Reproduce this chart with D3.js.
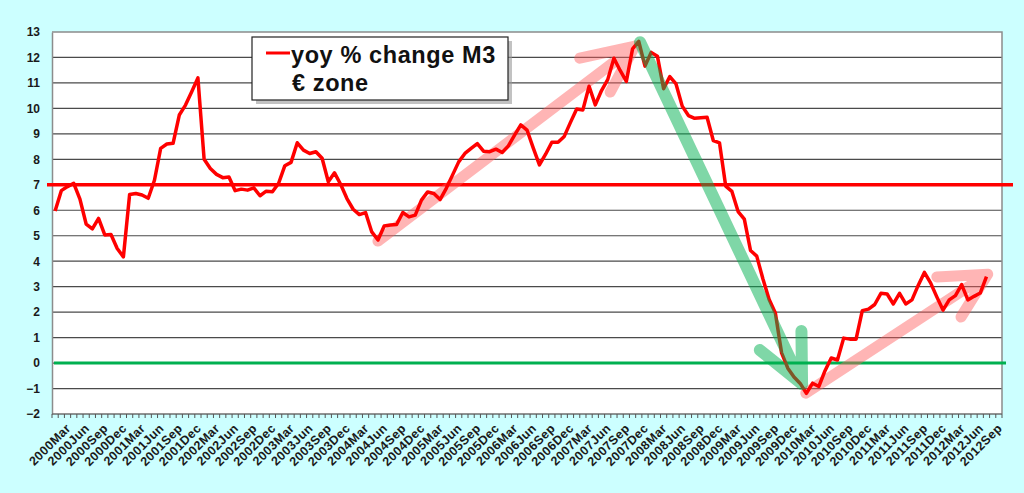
<!DOCTYPE html>
<html>
<head>
<meta charset="utf-8">
<script src="https://cdn.jsdelivr.net/npm/d3@7"></script>
<style>
  html, body { margin: 0; padding: 0; background: #ccffff; }
  svg { display: block; }
  text { font-family: "Liberation Sans", Arial, sans-serif; }
</style>
</head>
<body>
<svg id="chart" width="1024" height="493"></svg>
<script>
// categories: monthly, 2000Jan .. 2012Sep (labels shown on quarter months only)
const years = [2000, 2001, 2002, 2003, 2004, 2005, 2006, 2007, 2008, 2009, 2010, 2011, 2012]
const monthNames = ['Jan', 'Feb', 'Mar', 'Apr', 'May', 'Jun', 'Jul', 'Aug', 'Sep', 'Oct', 'Nov', 'Dec']
const labelMonths = ['Mar', 'Jun', 'Sep', 'Dec']
const lastCategory = '2012Sep'

// yoy % change M3, euro zone, 2000Jan .. 2012Jul
const m3Growth = [
  5.97, 6.77, 6.93, 7.06, 6.44, 5.46, 5.27, 5.68, 5.03, 5.05, 4.50, 4.17,   // 2000
  6.62, 6.66, 6.60, 6.47, 7.18, 8.43, 8.60, 8.63, 9.74, 10.13, 10.65, 11.20, // 2001
  8.00, 7.64, 7.41, 7.28, 7.31, 6.77, 6.83, 6.79, 6.88, 6.57, 6.75, 6.73,   // 2002
  7.06, 7.75, 7.88, 8.65, 8.36, 8.23, 8.30, 8.04, 7.12, 7.47, 7.01, 6.46,   // 2003
  6.04, 5.83, 5.91, 5.15, 4.83, 5.38, 5.42, 5.44, 5.91, 5.74, 5.81, 6.40,   // 2004
  6.72, 6.66, 6.42, 6.86, 7.38, 7.90, 8.23, 8.43, 8.62, 8.32, 8.30, 8.40,   // 2005
  8.27, 8.53, 8.95, 9.35, 9.15, 8.45, 7.78, 8.20, 8.67, 8.67, 8.90, 9.45,   // 2006
  9.98, 9.94, 10.87, 10.14, 10.70, 11.13, 11.97, 11.49, 11.06, 12.34, 12.63, 11.66, // 2007
  12.20, 12.05, 10.77, 11.25, 10.96, 10.09, 9.72, 9.61, 9.63, 9.65, 8.74, 8.65,    // 2008
  6.95, 6.74, 5.95, 5.65, 4.42, 4.20, 3.30, 2.50, 1.97, 0.40, -0.20, -0.55, // 2009
  -0.80, -1.19, -0.79, -0.92, -0.30, 0.20, 0.12, 0.98, 0.94, 0.94, 2.06, 2.12, // 2010
  2.30, 2.74, 2.71, 2.32, 2.74, 2.32, 2.48, 3.05, 3.56, 3.15, 2.60, 2.08,   // 2011
  2.48, 2.65, 3.08, 2.48, 2.62, 2.75, 3.39                                  // 2012
]

const yTicks = [-2, -1, 0, 1, 2, 3, 4, 5, 6, 7, 8, 9, 10, 11, 12, 13]
const referenceLevel = 7   // red horizontal line
const zeroLevel = 0        // green horizontal line

// hand-drawn trend arrows, in [month index, value]
const arrows = [
  { color: 'rgba(255, 90, 90, 0.45)', width: 11, above: false,
    shaft: [[52.0, 4.79], [93.4, 12.45]], arms: [[84.5, 11.97], [89.4, 10.64]] },
  { color: 'rgba(255, 90, 90, 0.45)', width: 11, above: false,
    shaft: [[120.9, -1.18], [150.2, 3.49]], arms: [[142.0, 3.38], [145.9, 1.81]] },
  { color: 'rgba(0, 176, 80, 0.5)', width: 12, above: true,
    shaft: [[94.2, 12.6], [120.3, -0.82]], arms: [[113.5, 0.51], [120.2, 1.26]] }
]

const categories = []
for (let y of years) {
  for (let m of monthNames) {
    if (categories.length && categories[categories.length - 1] === lastCategory) break
    categories.push(y + m)
  }
}

const margin = { left: 52, right: 22, top: 32, bottom: 79 }
const width = 1024, height = 493

const svg = d3.select('#chart')

const x = d3.scaleBand()
  .domain(categories)
  .range([margin.left, width - margin.right])
  .padding(0)
const bw = x.bandwidth()
const xIdx = i => margin.left + (i + 0.5) * bw

const y = d3.scaleLinear()
  .domain([-2, 13])
  .range([height - margin.bottom, margin.top])

// plot area
svg.append('rect')
  .attr('x', margin.left)
  .attr('y', margin.top)
  .attr('width', width - margin.left - margin.right)
  .attr('height', y(-2) - margin.top)
  .attr('fill', '#ffffff')

// gridlines
svg.append('g')
  .selectAll('line')
  .data(yTicks.filter(t => t > -2 && t < 13))
  .join('line')
  .attr('x1', margin.left)
  .attr('x2', width - margin.right)
  .attr('y1', d => y(d))
  .attr('y2', d => y(d))
  .attr('stroke', '#4a4a4a')
  .attr('stroke-width', 1.2)

// frame: top + right
svg.append('path')
  .attr('d', `M${margin.left},${margin.top}H${width - margin.right}V${y(-2)}`)
  .attr('fill', 'none')
  .attr('stroke', '#8c8c8c')
  .attr('stroke-width', 1.5)

// y axis
const yAxis = svg.append('g')
  .attr('transform', `translate(${margin.left},0)`)
  .call(d3.axisLeft(y).tickValues(yTicks).tickSize(0).tickPadding(12))
yAxis.select('.domain').attr('stroke', '#8c8c8c').attr('stroke-width', 1.5)
yAxis.selectAll('text')
  .attr('font-size', 12)
  .attr('font-weight', 'bold')
  .attr('fill', '#1a1a1a')
  .attr('font-family', '"Liberation Sans", Arial, sans-serif')

// x axis: one tick per month boundary
const xAxisG = svg.append('g')
  .attr('transform', `translate(0,${y(-2)})`)
xAxisG.append('line')
  .attr('x1', margin.left).attr('x2', width - margin.right)
  .attr('stroke', '#6e6e6e').attr('stroke-width', 1.5)
xAxisG.selectAll('line.tick')
  .data(categories.concat(['end']))
  .join('line')
  .attr('class', 'tick')
  .attr('x1', (d, i) => margin.left + i * bw)
  .attr('x2', (d, i) => margin.left + i * bw)
  .attr('y1', 0)
  .attr('y2', 4)
  .attr('stroke', '#555')
  .attr('stroke-width', 1)

xAxisG.selectAll('text')
  .data(categories.filter(c => labelMonths.includes(c.slice(4))))
  .join('text')
  .attr('transform', d => `translate(${x(d) + bw / 2 + 4},${15}) rotate(-45)`)
  .attr('text-anchor', 'end')
  .attr('font-size', 12.5)
  .attr('font-weight', 'bold')
  .attr('letter-spacing', 0.4)
  .attr('fill', '#1a1a1a')
  .text(d => d)

// horizontal reference lines
svg.append('line')
  .attr('x1', margin.left - 5).attr('x2', width - 11)
  .attr('y1', y(referenceLevel)).attr('y2', y(referenceLevel))
  .attr('stroke', '#ff0000').attr('stroke-width', 3.5)
svg.append('line')
  .attr('x1', margin.left + 2).attr('x2', width - 18)
  .attr('y1', y(zeroLevel)).attr('y2', y(zeroLevel))
  .attr('stroke', '#00b050').attr('stroke-width', 3)

function drawArrow(a) {
  const g = svg.append('g')
    .attr('fill', 'none')
    .attr('stroke', a.color)
    .attr('stroke-width', a.width)
    .attr('stroke-linecap', 'round')
    .attr('stroke-linejoin', 'round')
  const p = ([i, v]) => `${xIdx(i)},${y(v)}`
  const tip = a.shaft[1]
  g.append('path')
    .attr('d', `M${p(a.shaft[0])}L${p(tip)}M${p(a.arms[0])}L${p(tip)}L${p(a.arms[1])}`)
}

arrows.filter(a => !a.above).forEach(drawArrow)

// data line
const line = d3.line()
  .x((d, i) => x(categories[i]) + bw / 2)
  .y(d => y(d))
svg.append('path')
  .datum(m3Growth)
  .attr('d', line)
  .attr('fill', 'none')
  .attr('stroke', '#ff0000')
  .attr('stroke-width', 3.5)
  .attr('stroke-linejoin', 'round')

arrows.filter(a => a.above).forEach(drawArrow)

// legend
const lg = svg.append('g').attr('transform', 'translate(252,37)')
lg.append('rect')
  .attr('x', 4).attr('y', 4).attr('width', 256).attr('height', 63)
  .attr('fill', '#9a9a9a').attr('opacity', 0.6)
lg.append('rect')
  .attr('width', 256).attr('height', 63)
  .attr('fill', '#ffffff').attr('stroke', '#222').attr('stroke-width', 1.2)
lg.append('line')
  .attr('x1', 14).attr('x2', 38).attr('y1', 16).attr('y2', 16)
  .attr('stroke', '#ff0000').attr('stroke-width', 3)
lg.append('text')
  .attr('x', 39).attr('y', 26)
  .attr('font-size', 23.5).attr('font-weight', 'bold').attr('fill', '#111')
  .attr('letter-spacing', 0.6)
  .text('yoy % change M3')
lg.append('text')
  .attr('x', 40).attr('y', 54)
  .attr('font-size', 23.5).attr('font-weight', 'bold').attr('fill', '#111')
  .attr('letter-spacing', 0.6)
  .text('€ zone')
</script>
</body>
</html>
